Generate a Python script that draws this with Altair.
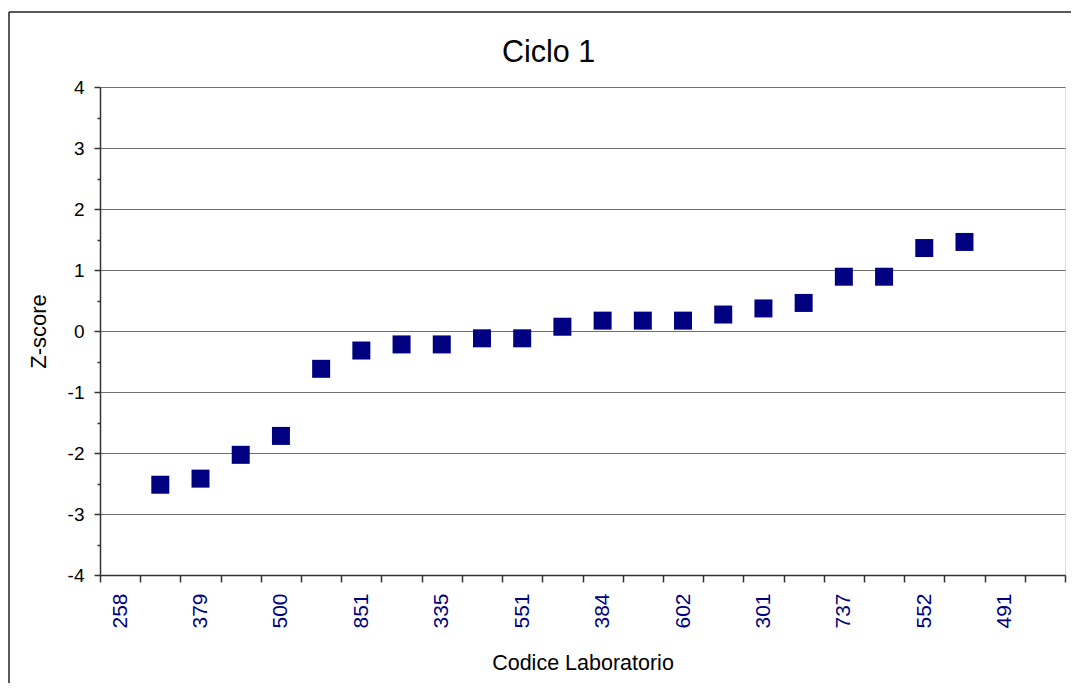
import altair as alt
import pandas as pd

# ---- data ----
tick_labels = ["258", "", "379", "", "500", "", "851", "", "335", "", "551", "",
               "384", "", "602", "", "301", "", "737", "", "552", "", "491", ""]
z_scores = [None, -2.52, -2.42, -2.03, -1.72, -0.62, -0.32, -0.22, -0.22, -0.12,
            -0.12, 0.07, 0.17, 0.17, 0.17, 0.27, 0.37, 0.46, 0.89, 0.89,
            1.36, 1.46, None, None]
y_ticks = [i / 2 for i in range(-8, 9)]

positions = list(range(len(tick_labels)))
df = pd.DataFrame({"pos": positions, "z": z_scores})
one = pd.DataFrame({"k": [0]})

FONT = "Liberation Sans"
label_expr = "[" + ",".join("'%s'" % t for t in tick_labels) + "][datum.value]"

points = alt.Chart(df).mark_square(size=324, color="#000080", opacity=1, filled=True).encode(
    x=alt.X(
        "pos:O",
        scale=alt.Scale(type="band", domain=positions, paddingInner=0, paddingOuter=0),
        axis=alt.Axis(
            title="Codice Laboratorio",
            titleFont=FONT, titleFontSize=21.5, titleFontWeight="normal", titleColor="black",
            titleY=94, titleBaseline="alphabetic",
            labelAngle=270, labelFont=FONT, labelFontSize=21, labelColor="#000080",
            labelExpr=label_expr, labelOverlap=False, labelPadding=11,
            tickBand="extent", tickSize=7, tickColor="#333333", tickWidth=1.5,
            domainColor="#333333", domainWidth=1.5, grid=False,
        ),
    ),
    y=alt.Y(
        "z:Q",
        scale=alt.Scale(domain=[-4, 4], nice=False, zero=False),
        axis=alt.Axis(
            title="Z-score",
            titleFont=FONT, titleFontSize=22, titleFontWeight="normal", titleColor="black",
            titleAngle=270, titleX=-55, titleY=244, titleAlign="center", titleBaseline="alphabetic",
            values=y_ticks,
            labelExpr="datum.value % 1 === 0 ? '' + datum.value : ''",
            labelFont=FONT, labelFontSize=19, labelColor="black", labelPadding=10,
            tickSize={"condition": {"test": "datum.value % 1 !== 0", "value": 3}, "value": 6},
            tickColor="#333333", tickWidth=1.5,
            domainColor="#333333", domainWidth=1.5,
            grid=True, gridColor="#6e6e6e", gridWidth=1,
            gridOpacity={"condition": {"test": "datum.value % 1 !== 0", "value": 0}, "value": 1},
        ),
    ),
)

title = alt.Chart(one).mark_text(
    text="Ciclo 1", font=FONT, fontSize=30.5, color="black", align="center", baseline="alphabetic"
).encode(x=alt.value(448.5), y=alt.value(-25))

frame_left = alt.Chart(one).mark_rule(color="#222222", strokeWidth=1.5).encode(
    x=alt.value(-91), y=alt.value(-75), y2=alt.value(620)
)
frame_top = alt.Chart(one).mark_rule(color="#222222", strokeWidth=1.5).encode(
    x=alt.value(-91), x2=alt.value(990), y=alt.value(-75)
)

chart = alt.layer(frame_left, frame_top, title, points).properties(
    width=965,
    height=488,
    autosize=alt.AutoSizeParams(type="none"),
    padding={"left": 92, "top": 79, "right": 6, "bottom": 108},
    background="white",
).configure_view(stroke="black", strokeWidth=1).configure(font=FONT)

chart.save("out.html", embed_options={"renderer": "svg", "actions": False})
